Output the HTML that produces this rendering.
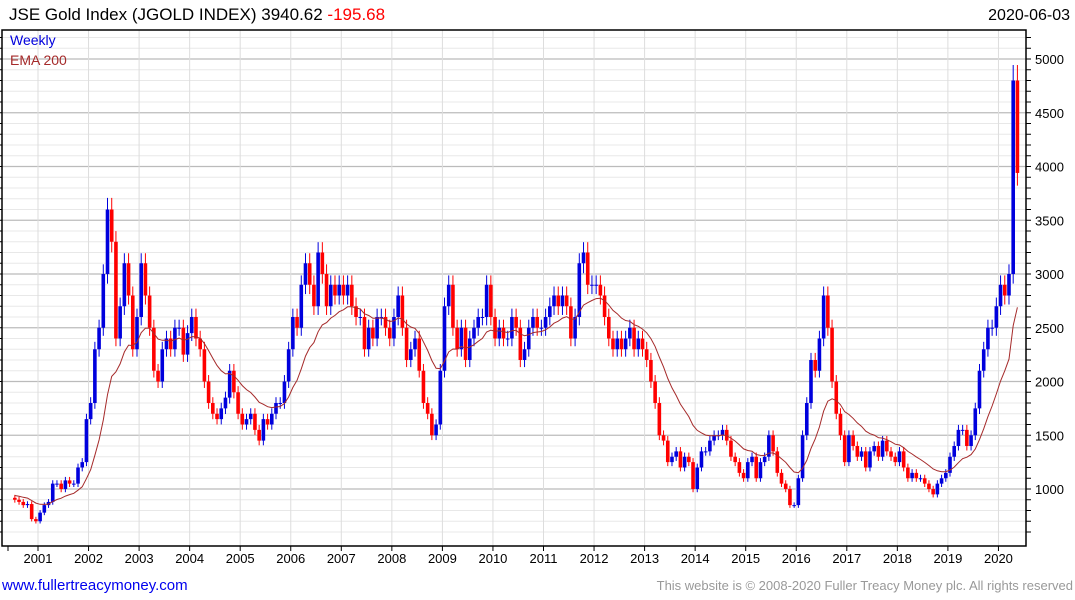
<!DOCTYPE html>
<html><head><meta charset="utf-8"><style>
body{margin:0;background:#fff;font-family:"Liberation Sans","DejaVu Sans",sans-serif}
#wrap{position:relative;width:1075px;height:600px;overflow:hidden}
</style></head><body>
<div id="wrap">
<svg id="chart" width="1075" height="600"></svg>
</div>
<script>
const startYear=2000.5;
const closes=[
900,880,850,860,720,700,
780,850,880,1050,1050,1000,1080,1050,1050,1200,1250,1650,
1800,2300,2500,3000,3600,3300,2400,2700,3100,2800,2300,2600,
3100,2800,2500,2100,2000,2300,2400,2300,2500,2500,2250,2450,
2600,2400,2300,2000,1800,1700,1650,1750,1850,2100,1900,1700,
1600,1650,1700,1550,1450,1650,1600,1700,1800,1800,2000,2300,
2600,2500,2900,3100,2900,2700,3200,3000,2700,2900,2800,2900,
2800,2900,2700,2600,2600,2300,2500,2400,2600,2600,2500,2400,
2600,2800,2500,2200,2300,2400,2100,1800,1700,1500,1600,2100,
2700,2900,2500,2300,2500,2200,2400,2500,2600,2600,2900,2600,
2400,2500,2400,2400,2600,2500,2200,2300,2500,2600,2500,2500,
2600,2700,2800,2700,2800,2700,2400,2600,3100,3200,2900,2900,
2900,2800,2600,2400,2300,2400,2300,2400,2500,2300,2400,2300,
2200,2000,1800,1500,1450,1250,1300,1350,1200,1300,1250,1000,
1200,1350,1350,1450,1500,1500,1550,1450,1300,1250,1150,1100,
1250,1300,1100,1250,1300,1500,1350,1150,1050,1000,850,850,
1100,1500,1800,2200,2100,2400,2800,2500,2000,1700,1500,1250,
1500,1400,1300,1350,1200,1350,1400,1300,1450,1350,1300,1250,
1350,1200,1100,1150,1100,1100,1050,1000,950,1050,1100,1150,
1300,1400,1550,1550,1400,1500,1750,2100,2300,2500,2500,2700,
2900,2800,3000,4800,3940];
const yTicks=[1000,1500,2000,2500,3000,3500,4000,4500,5000];
const years=[2001,2002,2003,2004,2005,2006,2007,2008,2009,2010,2011,2012,2013,2014,2015,2016,2017,2018,2019,2020];

const L=2,R=1026,T=30,B=546;
const x=t=>38+(t-2001)*50.55;
const y=v=>59+(5000-v)*0.1075;
const NS='http://www.w3.org/2000/svg';
const svg=document.getElementById('chart');
function mk(tag,attrs,parent){const e=document.createElementNS(NS,tag);for(const k in attrs)e.setAttribute(k,attrs[k]);(parent||svg).appendChild(e);return e;}

const grid=mk('g',{});


for(let v=600;v<=5200;v+=100){const yy=y(v);if(yy<T||yy>B)continue;
 const major=v%500===0;
 mk('line',{x1:L,x2:R,y1:yy,y2:yy,stroke:major?'#bbb':'#e8e8e8','stroke-width':major?1.3:1},grid);
 mk('line',{x1:R,x2:R+5,y1:yy,y2:yy,stroke:'#000'},grid);
 mk('line',{x1:L-3,x2:L,y1:yy,y2:yy,stroke:'#000'},grid);
}
years.forEach(yr=>{mk('line',{x1:x(yr),x2:x(yr),y1:T,y2:B,stroke:'#ddd'},grid);
 mk('line',{x1:x(yr),x2:x(yr),y1:B,y2:B+5,stroke:'#000'},grid);
 const t=mk('text',{x:x(yr),y:B+17,'font-size':13,'text-anchor':'middle',fill:'#000'});
 t.textContent=yr;
 
 
});
mk('line',{x1:8,x2:8,y1:B,y2:B+5,stroke:'#000'},grid);
yTicks.forEach(v=>{const t=mk('text',{x:R+9,y:y(v)+5,'font-size':13,fill:'#000'});
 t.textContent=v;
 
 
});

const bars=mk('g',{});


let prev=closes[0]*1.02;
closes.forEach((c,i)=>{
 const t=startYear+i/12+1/24, xx=x(t);
 const o=prev, up=c>=o, col=up?'#0000dd':'#ff0000';
 const hi=Math.max(o,c)*1.03, lo=Math.min(o,c)*0.97;
 mk('line',{x1:xx,x2:xx,y1:y(hi),y2:y(lo),stroke:col,'stroke-width':1},bars);
 const r=mk('rect',{x:xx-1.8,y:y(Math.max(o,c)),width:3.6,height:Math.max(1,Math.abs(y(o)-y(c))),fill:col},bars);
 
 
 prev=c;
});

let e=closes[0]*1.05;const a=0.12;let d='';
closes.forEach((c,i)=>{e=e+a*(c-e);const t=startYear+i/12+1/24;d+=(i?'L':'M')+x(t).toFixed(1)+','+y(e).toFixed(1);});
const ema=mk('path',{d:d,fill:'none',stroke:'#a52a2a','stroke-width':1});



const fr=mk('rect',{x:L,y:T,width:R-L,height:B-T,fill:'none',stroke:'#000','stroke-width':1.5});



function txt(s,attrs,name,inter){const t=mk('text',attrs);t.textContent=s;return t;}
const title=mk('text',{x:9,y:20,'font-size':17,fill:'#000'});


title.innerHTML='JSE Gold Index (JGOLD INDEX) 3940.62 <tspan fill="#ff0000">-195.68</tspan>';
txt('2020-06-03',{x:1070,y:20,'font-size':16,'text-anchor':'end',fill:'#000'},'chart-date',false);
txt('Weekly',{x:10,y:45,'font-size':14,fill:'#0000dd'},'legend-weekly',false);
txt('EMA 200',{x:10,y:65,'font-size':14,fill:'#a52a2a'},'legend-ema',false);
txt('www.fullertreacymoney.com',{x:2,y:590,'font-size':15,fill:'#0000ee'},'website-link',true);
txt('This website is © 2008-2020 Fuller Treacy Money plc. All rights reserved',{x:1073,y:590,'font-size':13,'text-anchor':'end',fill:'#999'},'copyright-notice',false);
</script>
</body></html>
